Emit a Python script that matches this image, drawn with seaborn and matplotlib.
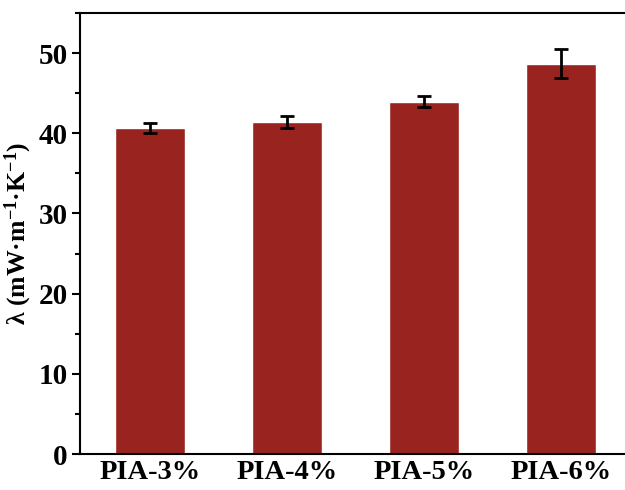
import pandas as pd
import matplotlib
matplotlib.use("Agg")
import matplotlib.pyplot as plt
import seaborn as sns
from matplotlib.ticker import MultipleLocator

# datos
muestras = ['PIA-3%', 'PIA-4%', 'PIA-5%', 'PIA-6%']
lambda_vals = [40.65, 41.4, 43.95, 48.7]
errores = [0.6, 0.7, 0.7, 1.75]

df = pd.DataFrame({'Muestra': muestras, 'Lambda': lambda_vals, 'Error': errores})

sns.set_theme(style="white")
plt.rcParams['font.family'] = ['Liberation Serif', 'DejaVu Serif']
plt.rcParams['font.weight'] = 'bold'
plt.rcParams['text.color'] = 'black'
plt.rcParams['axes.labelcolor'] = 'black'
plt.rcParams['xtick.color'] = 'black'
plt.rcParams['ytick.color'] = 'black'
plt.rcParams['mathtext.fontset'] = 'custom'
plt.rcParams['mathtext.rm'] = 'Liberation Serif:bold'
plt.rcParams['mathtext.bf'] = 'Liberation Serif:bold'
plt.rcParams['mathtext.it'] = 'Liberation Serif:bold'

fig = plt.figure(figsize=(6.25, 4.9), dpi=100)
ax = fig.add_axes([80 / 625, 1 - 454 / 490, 545 / 625, (454 - 13) / 490])

color_barra = '#98231F'
sns.barplot(x='Muestra', y='Lambda', data=df, color=color_barra, width=0.51,
            saturation=1, errorbar=None, ax=ax)
ax.errorbar(x=range(len(df)), y=df['Lambda'], yerr=df['Error'], fmt='none',
            ecolor='black', elinewidth=2, capsize=5, capthick=2)

ax.set_ylim(0, 55)
ax.set_xlim(-0.51, 3.47)
ax.yaxis.set_major_locator(MultipleLocator(10))
ax.yaxis.set_minor_locator(MultipleLocator(5))
ax.tick_params(axis='y', which='major', direction='out', length=6, width=1.5,
               labelsize=21, left=True, pad=3)
ax.tick_params(axis='y', which='minor', direction='out', length=3.5, width=1.5, left=True)
ax.tick_params(axis='x', length=0, labelsize=20.5, pad=4)
for lab in ax.get_xticklabels() + ax.get_yticklabels():
    lab.set_fontweight('bold')

for lado in ['left', 'bottom', 'top']:
    ax.spines[lado].set_linewidth(1.5)
    ax.spines[lado].set_color('black')
ax.spines['right'].set_visible(False)

ax.set_xlabel('')
ax.set_ylabel('λ (mW·m$^{-1}$·K$^{-1}$)', fontsize=18.5,
              fontweight='bold', labelpad=3)

fig.savefig('out.png', dpi=100)
